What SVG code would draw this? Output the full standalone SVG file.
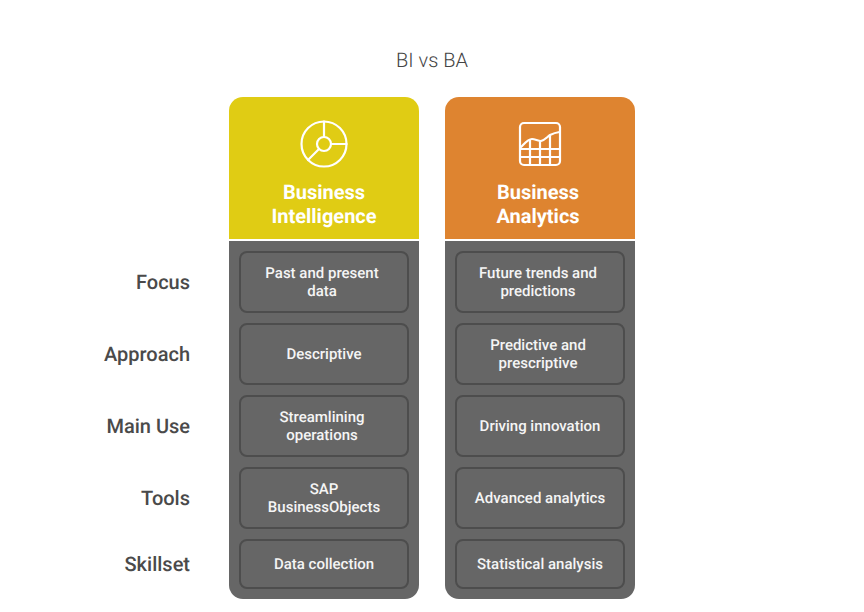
<svg xmlns="http://www.w3.org/2000/svg" width="864" height="612" viewBox="0 0 864 612">
<style>
text{font-family:Roboto,"Liberation Sans",sans-serif;text-anchor:middle;text-rendering:geometricPrecision}
.title{font-size:20px;fill:#444;font-weight:300}
.head{font-size:20px;font-weight:700;fill:#fff}
.row{font-size:20px;font-weight:500;fill:#4a4a4a;text-anchor:end}
.cell{font-size:15px;font-weight:500;fill:#f5f5f5}
.box{fill:#666;stroke:#4d4d4d;stroke-width:2}
.body{fill:#666}
.ic{fill:none;stroke:#fff;stroke-width:2.2;stroke-linecap:round;stroke-linejoin:round}
</style>
<rect width="864" height="612" fill="#fff"/>
<text id="title" class="title" x="432" y="67">BI vs BA</text>
<g id="row-labels">
<text class="row" x="190" y="289">Focus</text>
<text class="row" x="190" y="361">Approach</text>
<text class="row" x="190" y="433">Main Use</text>
<text class="row" x="190" y="505">Tools</text>
<text class="row" x="190" y="571">Skillset</text>
</g>
<g id="column-bi">
<path d="M229 239V111a14 14 0 0 1 14-14H405a14 14 0 0 1 14 14V239Z" fill="#e0cc14"/>
<path class="body" d="M229 241H419V585a14 14 0 0 1-14 14H243a14 14 0 0 1-14-14Z"/>
<g class="ic">
<circle cx="324" cy="144" r="22.500"/>
<circle cx="324" cy="144" r="7"/>
<path d="M324 121.500V137M331 144H346.500M319 149L308 160"/>
</g>
<text class="head" x="324" y="199">Business</text>
<text class="head" x="324" y="223">Intelligence</text>
</g>
<g id="column-ba">
<path d="M445 239V111a14 14 0 0 1 14-14H621a14 14 0 0 1 14 14V239Z" fill="#de8430"/>
<path class="body" d="M445 241H635V585a14 14 0 0 1-14 14H459a14 14 0 0 1-14-14Z"/>
<g class="ic">
<rect x="520" y="123" width="40" height="42" rx="4"/>
<path d="M521 147C525 143 528 139 532 139C535 139 538 141 541 141C545 140 547 137 550 135C553 133.500 556 132.500 559.500 132"/>
<path d="M520 149H560M520 157H560M530 140V165M540 142V165M550 136V165"/>
</g>
<text class="head" x="538" y="199">Business</text>
<text class="head" x="538" y="223">Analytics</text>
</g>
<g id="cell-bi-focus"><rect class="box" x="240" y="252" width="168" height="60" rx="7"/><text class="cell" x="322" y="278">Past and present</text><text class="cell" x="322" y="296">data</text></g>
<g id="cell-bi-approach"><rect class="box" x="240" y="324" width="168" height="60" rx="7"/><text class="cell" x="324" y="359">Descriptive</text></g>
<g id="cell-bi-use"><rect class="box" x="240" y="396" width="168" height="60" rx="7"/><text class="cell" x="322" y="422">Streamlining</text><text class="cell" x="322" y="440">operations</text></g>
<g id="cell-bi-tools"><rect class="box" x="240" y="468" width="168" height="60" rx="7"/><text class="cell" x="324" y="494">SAP</text><text class="cell" x="324" y="512">BusinessObjects</text></g>
<g id="cell-bi-skill"><rect class="box" x="240" y="540" width="168" height="48" rx="7"/><text class="cell" x="324" y="569">Data collection</text></g>
<g id="cell-ba-focus"><rect class="box" x="456" y="252" width="168" height="60" rx="7"/><text class="cell" x="538" y="278">Future trends and</text><text class="cell" x="538" y="296">predictions</text></g>
<g id="cell-ba-approach"><rect class="box" x="456" y="324" width="168" height="60" rx="7"/><text class="cell" x="538" y="350">Predictive and</text><text class="cell" x="538" y="368">prescriptive</text></g>
<g id="cell-ba-use"><rect class="box" x="456" y="396" width="168" height="60" rx="7"/><text class="cell" x="540" y="431">Driving innovation</text></g>
<g id="cell-ba-tools"><rect class="box" x="456" y="468" width="168" height="60" rx="7"/><text class="cell" x="540" y="503">Advanced analytics</text></g>
<g id="cell-ba-skill"><rect class="box" x="456" y="540" width="168" height="48" rx="7"/><text class="cell" x="540" y="569">Statistical analysis</text></g>
<g id="connectors"/>
</svg>
